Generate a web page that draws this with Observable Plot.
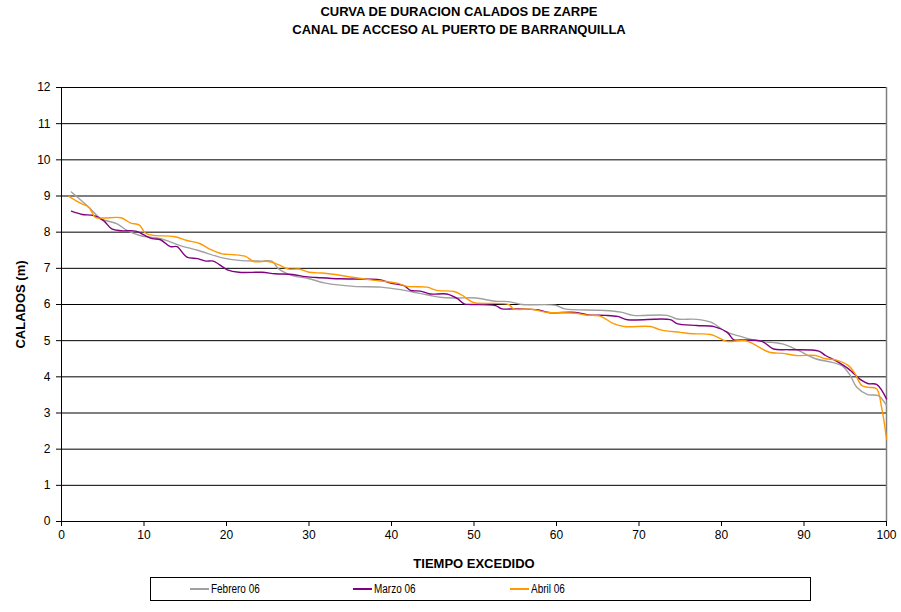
<!DOCTYPE html>
<html>
<head>
<meta charset="utf-8">
<script src="https://cdn.jsdelivr.net/npm/d3@7"></script>
<script src="https://cdn.jsdelivr.net/npm/@observablehq/plot@0.6"></script>
<style>
  body { margin: 0; background: #fff; font-family: "Liberation Sans", Arial, sans-serif; }
  #wrap { position: relative; width: 901px; height: 612px; overflow: hidden; }
  #title { box-sizing: border-box; width: 901px; height: 60px; padding: 3px 0 0 17px;
           text-align: center; font-weight: bold; font-size: 13px; line-height: 18px; color: #000; }
  #chart svg { display: block; }
  #legend { position: absolute; left: 150px; top: 577px; width: 661px; height: 24px;
            box-sizing: border-box; border: 1px solid #000;
            font-family: "Liberation Sans", Arial, sans-serif;
            font-size: 12px; color: #000; }
  .item { position: absolute; top: 0; height: 22px; line-height: 22px; white-space: nowrap; }
  .swatch { display: inline-block; width: 19px; height: 2px; vertical-align: middle; margin-right: 2px; position: relative; top: -1px; }
  .name { display: inline-block; transform: scaleX(0.83); transform-origin: 0 50%; }
</style>
</head>
<body>
<div id="wrap">
  <div id="title">CURVA DE DURACION CALADOS DE ZARPE<br>CANAL DE ACCESO AL PUERTO DE BARRANQUILLA</div>
  <div id="chart"></div>
  <div id="legend"></div>
</div>
<script>
// Series names and colours
const seriesNames = ["Febrero 06", "Marzo 06", "Abril 06"];
const seriesColors = ["#a0a0a0", "#800080", "#ff9900"];

// Febrero 06: tiempo excedido (%) and calado (m)
const febTiempo = [1.2,3.5,4.7,6.75,8,9.6,12,14.4,16.5,19.5,21.5,24.3,25.5,26.3,28,29.9,32,35.4,38.7,41.1,42.7,44.7,45.9,48,50.2,52.6,54.2,55.8,59.9,61,65.3,67.8,69.3,73.4,74.6,77,78.7,80.7,82.4,83.3,84.9,87.4,89.3,91.4,93.4,94.6,95.6,96.4,97.7,99,100];
const febCalado = [9.11,8.65,8.38,8.23,8.04,7.9,7.82,7.63,7.5,7.29,7.22,7.2,7.2,6.99,6.8,6.72,6.59,6.5,6.48,6.41,6.34,6.25,6.2,6.18,6.18,6.09,6.08,6.0,5.98,5.88,5.84,5.79,5.7,5.7,5.6,5.59,5.51,5.23,5.11,5.05,4.98,4.91,4.73,4.5,4.4,4.31,4.04,3.71,3.51,3.48,3.21];

// Marzo 06
const marTiempo = [1.2,2.5,3.9,5.1,6.1,7.2,9,10.2,11,12,13.2,14,15.2,16.5,17.5,18.4,20.1,21.5,24.3,25.9,28,29.6,31.4,33.8,38.7,39.9,41.5,42.3,43.5,44.7,46.7,48,48.8,49.6,52.6,53.4,55,57.8,59,62.3,63.9,65.9,67.4,68.6,73.8,74.6,77,79.1,80.7,81.5,82.3,84.9,86.3,88.2,91.8,92.6,94.2,95.4,97,97.8,98.8,100];
const marCalado = [8.58,8.49,8.46,8.32,8.09,8.04,8.03,7.9,7.82,7.79,7.6,7.6,7.31,7.27,7.2,7.2,6.96,6.89,6.89,6.85,6.83,6.77,6.74,6.71,6.68,6.59,6.52,6.39,6.37,6.29,6.29,6.16,6.02,6.0,5.97,5.88,5.88,5.85,5.78,5.78,5.71,5.7,5.67,5.58,5.58,5.47,5.42,5.39,5.23,5.02,5.02,4.98,4.77,4.75,4.71,4.59,4.4,4.22,3.9,3.81,3.79,3.39];

// Abril 06
const abrTiempo = [0.9,2.3,3.3,4.1,5.1,7.2,8.4,9.4,10.2,11.2,13.6,15.2,16.8,17.9,19.5,20.7,22.3,23.3,25.1,26.3,27.5,28.8,30,31.6,33.2,35,37.5,40.7,41.9,44.3,45.5,47.6,48.6,49.6,50.2,54.2,54.8,57,58.7,62.3,63.5,65.3,66.9,68.2,71.4,72.6,75,76.6,78.7,80.7,82.9,85.8,87.4,89,91.4,92.6,93.8,95.4,96.2,97,97.8,98.8,99.4,100];
const abrCalado = [8.99,8.8,8.69,8.41,8.39,8.4,8.25,8.2,7.97,7.91,7.88,7.77,7.68,7.54,7.4,7.38,7.33,7.19,7.19,7.1,6.98,6.98,6.89,6.87,6.83,6.76,6.68,6.59,6.5,6.48,6.39,6.36,6.25,6.09,6.04,6.0,5.88,5.87,5.79,5.76,5.71,5.68,5.47,5.39,5.39,5.3,5.23,5.19,5.17,4.98,5.0,4.68,4.65,4.59,4.59,4.5,4.47,4.31,4.08,3.76,3.71,3.67,3.16,2.29];

// Axis ticks and titles
const yTicks = [0,1,2,3,4,5,6,7,8,9,10,11,12];
const xTicks = [0,10,20,30,40,50,60,70,80,90,100];
const yTitle = "CALADOS (m)";
const xTitle = "TIEMPO EXCEDIDO";

const toRows = (name, xs, ys) => xs.map((t, i) => ({serie: name, tiempo: t, calado: ys[i]}));
const rows = [
  ...toRows(seriesNames[0], febTiempo, febCalado),
  ...toRows(seriesNames[1], marTiempo, marCalado),
  ...toRows(seriesNames[2], abrTiempo, abrCalado)
];

const chart = Plot.plot({
  width: 901,
  height: 512,
  marginLeft: 61,
  marginRight: 15,
  marginTop: 27,
  marginBottom: 51,
  style: {fontFamily: "'Liberation Sans', Arial, sans-serif", fontSize: "12px", color: "#000", background: "#fff"},
  x: {domain: [0, 100], label: null},
  y: {domain: [0, 12], label: null},
  color: {domain: seriesNames, range: seriesColors},
  marks: [
    Plot.ruleY(yTicks.filter(d => d > 0), {stroke: "#000", strokeWidth: 1}),
    Plot.ruleX([100], {stroke: "#808080", strokeWidth: 1.5}),
    Plot.line(rows, {x: "tiempo", y: "calado", z: "serie", stroke: "serie", strokeWidth: 1.4, curve: "catmull-rom"}),
    Plot.ruleY([0], {stroke: "#000", strokeWidth: 1}),
    Plot.ruleX([0], {stroke: "#000", strokeWidth: 1}),
    Plot.axisX({ticks: xTicks, tickSize: 5, tickPadding: 4, label: null, stroke: "#000", fontSize: 12}),
    Plot.axisY({ticks: yTicks, tickSize: 5, tickPadding: 6, label: null, stroke: "#000", fontSize: 12}),
    Plot.text([yTitle], {text: d => d, frameAnchor: "left", textAnchor: "middle", lineAnchor: "middle", dx: -41, rotate: -90, fontWeight: "bold", fontSize: 13}),
    Plot.text([xTitle], {text: d => d, frameAnchor: "bottom", textAnchor: "middle", lineAnchor: "middle", dy: 42, fontWeight: "bold", fontSize: 13})
  ]
});
document.getElementById("chart").appendChild(chart);

// Legend built from the same names and colours
const legendLeft = [39, 202, 359];
const legend = document.getElementById("legend");
seriesNames.forEach((name, i) => {
  const item = document.createElement("div");
  item.className = "item";
  item.style.left = legendLeft[i] + "px";
  const sw = document.createElement("span");
  sw.className = "swatch";
  sw.style.background = seriesColors[i];
  const label = document.createElement("span");
  label.className = "name";
  label.textContent = name;
  item.appendChild(sw);
  item.appendChild(label);
  legend.appendChild(item);
});
</script>
</body>
</html>
